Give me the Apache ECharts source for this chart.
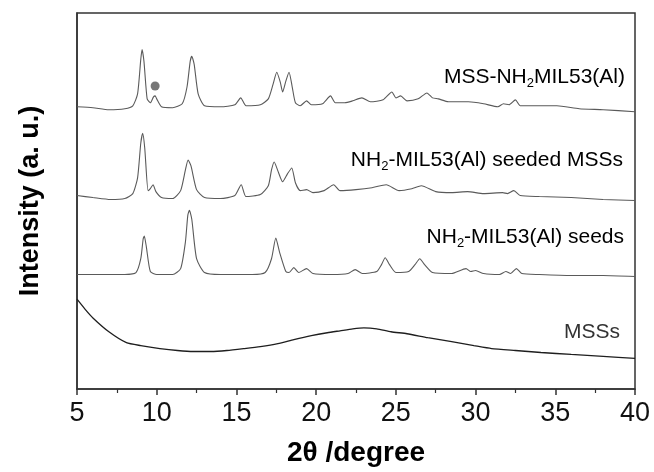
<!DOCTYPE html>
<html>
<head>
<meta charset="utf-8">
<script src="https://cdn.jsdelivr.net/npm/echarts@6/dist/echarts.min.js"></script>
<style>
  html, body { margin: 0; padding: 0; background: #fff; }
  #chart { width: 654px; height: 472px; }
</style>
</head>
<body>
<div id="chart"></div>
<script>
// [2θ, intensity] (arbitrary units, offset stacking)
const mssMil53 = [
  [5.0, 286], [6.0, 285], [7.0, 283], [8.0, 284], [8.5, 287], [8.8, 299], [9.0, 334], [9.08, 344],
  [9.2, 332], [9.4, 294], [9.6, 290], [9.8, 296], [9.9, 297], [10.0, 294], [10.3, 286], [11.0, 285],
  [11.6, 289], [11.9, 306], [12.1, 332], [12.2, 337], [12.35, 329], [12.6, 299], [13.0, 287], [14.0, 286],
  [14.9, 288], [15.27, 295], [15.6, 287], [16.5, 288], [17.0, 294], [17.3, 309], [17.53, 321], [17.75, 311],
  [17.9, 301], [18.1, 312], [18.3, 321], [18.5, 306], [18.7, 290], [19.0, 287], [19.4, 292], [19.7, 288],
  [20.4, 289], [20.9, 297], [21.2, 290], [21.8, 290], [22.3, 292], [22.87, 295], [23.4, 291], [24.2, 293],
  [24.75, 301], [25.0, 295], [25.3, 297], [25.7, 292], [26.4, 294], [26.95, 300], [27.3, 295], [27.66, 294],
  [28.3, 291], [29.55, 291], [30.5, 289], [31.4, 286], [31.75, 289], [32.1, 288], [32.5, 293], [32.8, 287],
  [34.0, 287], [35.1, 287], [36.5, 284], [38.0, 283], [40.0, 281]
];
const seededMss = [
  [5.0, 196], [6.0, 194], [7.1, 192], [8.0, 193], [8.5, 198], [8.8, 214], [9.0, 249], [9.12, 259],
  [9.25, 244], [9.46, 201], [9.6, 203], [9.77, 207], [9.95, 200], [10.3, 194], [11.0, 193], [11.5, 201],
  [11.8, 222], [11.97, 232], [12.15, 226], [12.5, 202], [13.0, 194], [14.0, 193], [14.9, 196], [15.3, 207],
  [15.6, 195], [16.5, 197], [17.0, 206], [17.2, 222], [17.37, 230], [17.6, 221], [17.9, 210], [18.2, 218],
  [18.47, 224], [18.7, 209], [19.0, 201], [19.4, 202], [19.8, 199], [20.5, 201], [21.1, 207], [21.5, 201],
  [22.5, 202], [23.5, 204], [24.4, 207], [25.2, 201], [26.0, 203], [26.6, 206], [27.5, 200], [28.5, 199],
  [29.5, 200], [30.5, 198], [31.7, 199], [32.0, 198], [32.4, 201], [32.8, 196], [34.0, 195], [36.0, 194],
  [38.0, 192], [40.0, 191]
];
const seeds = [
  [5.0, 116], [6.5, 116], [8.0, 116], [8.7, 118], [9.0, 132], [9.15, 152], [9.22, 155], [9.35, 144],
  [9.6, 119], [10.0, 116], [11.0, 116], [11.5, 122], [11.8, 149], [11.95, 176], [12.05, 181], [12.2, 172],
  [12.5, 132], [13.0, 118], [14.0, 116], [16.0, 116], [16.8, 118], [17.2, 132], [17.47, 153], [17.7, 139],
  [18.1, 119], [18.3, 118], [18.6, 123], [18.9, 118], [19.4, 122], [19.8, 117], [21.0, 116], [22.0, 117],
  [22.45, 121], [22.9, 117], [23.8, 119], [24.1, 126], [24.33, 133], [24.6, 126], [25.0, 118], [25.8, 119],
  [26.2, 126], [26.5, 132], [26.8, 126], [27.3, 118], [28.5, 117], [29.4, 122], [29.7, 119], [30.0, 120],
  [30.5, 117], [31.5, 116], [31.9, 119], [32.2, 117], [32.56, 122], [32.9, 117], [34.0, 116], [36.0, 115],
  [38.0, 115], [40.0, 114]
];
const mss = [
  [5.0, 91], [5.5, 81], [6.0, 72], [7.0, 58], [8.1, 47], [9.0, 44], [10.2, 41], [11.3, 39],
  [12.3, 38], [13.4, 38], [14.4, 39], [15.5, 41], [16.5, 43], [17.6, 46], [18.6, 50], [19.7, 54],
  [20.7, 57], [21.5, 59], [22.3, 61], [23.0, 62], [23.8, 61], [24.7, 58], [25.7, 56], [27.0, 52],
  [28.5, 48], [29.9, 44], [31.0, 41], [32.5, 39], [34.1, 37], [36.0, 35], [38.0, 33], [40.0, 31]
];
// impurity marker above the 9.9° reflection
const dotMark = [[9.9, 307]];

const xTicks = [5, 10, 15, 20, 25, 30, 35, 40];

const traceNames = ['MSS-NH2MIL53(Al)', 'NH2-MIL53(Al) seeded MSSs', 'NH2-MIL53(Al) seeds', 'MSSs'];
const traceData = [mssMil53, seededMss, seeds, mss];

const chart = echarts.init(document.getElementById('chart'), null, { renderer: 'canvas' });

const font = '"Liberation Sans", Arial, sans-serif';
const subRich = {
  sub: { fontFamily: font, fontSize: 13, color: '#333', padding: [12, 0, 0, 0] },
  n: { fontFamily: font, fontSize: 21, color: '#333' }
};

const series = traceData.map((d, i) => ({
  name: traceNames[i],
  type: 'line',
  data: d,
  symbol: 'none',
  smooth: 0.2,
  lineStyle: {
    color: i === 3 ? '#1e1e1e' : '#5a5a5a',
    width: i === 3 ? 1.3 : 1.1
  },
  animation: false
}));
series.push({
  type: 'scatter',
  data: dotMark,
  symbolSize: 9,
  itemStyle: { color: '#555' },
  animation: false
});

const option = {
  backgroundColor: '#fff',
  grid: {
    left: 77, right: 19, top: 13, bottom: 78,
    show: true, borderColor: '#333', borderWidth: 1.5, backgroundColor: 'transparent'
  },
  xAxis: {
    type: 'value',
    min: 5, max: 40, interval: 5,
    name: '2θ /degree',
    nameLocation: 'middle',
    nameGap: 50,
    nameTextStyle: { fontFamily: font, fontSize: 28, fontWeight: 'bold', color: '#000' },
    axisLine: { show: true, lineStyle: { color: '#333', width: 1.5 } },
    axisTick: { show: true, inside: false, length: 6, lineStyle: { color: '#333', width: 1.5 } },
    minorTick: { show: true, splitNumber: 2, length: 4, lineStyle: { color: '#333', width: 1.2 } },
    axisLabel: {
      fontFamily: font, fontSize: 27, color: '#111', margin: 11,
      customValues: xTicks,
      formatter: v => String(v)
    },
    splitLine: { show: false }
  },
  yAxis: {
    type: 'value',
    min: 0, max: 381,
    name: 'Intensity (a. u.)',
    nameLocation: 'middle',
    nameRotate: 90,
    nameGap: 33,
    nameTextStyle: { fontFamily: font, fontSize: 27, fontWeight: 'bold', color: '#000' },
    axisLine: { show: true, lineStyle: { color: '#333', width: 1.5 } },
    axisTick: { show: false },
    axisLabel: { show: false },
    splitLine: { show: false }
  },
  graphic: [
    { type: 'text', right: 29, top: 67, style: { text: '{n|MSS-NH}{sub|2}{n|MIL53(Al)}', rich: subRich } },
    { type: 'text', right: 31, top: 150, style: { text: '{n|NH}{sub|2}{n|-MIL53(Al) seeded MSSs}', rich: subRich } },
    { type: 'text', right: 30, top: 227, style: { text: '{n|NH}{sub|2}{n|-MIL53(Al) seeds}', rich: subRich } },
    { type: 'text', right: 34, top: 322, style: { text: 'MSSs', fontFamily: font, fontSize: 21, fill: '#333' } }
  ],
  series: series
};

chart.setOption(option);
</script>
</body>
</html>
